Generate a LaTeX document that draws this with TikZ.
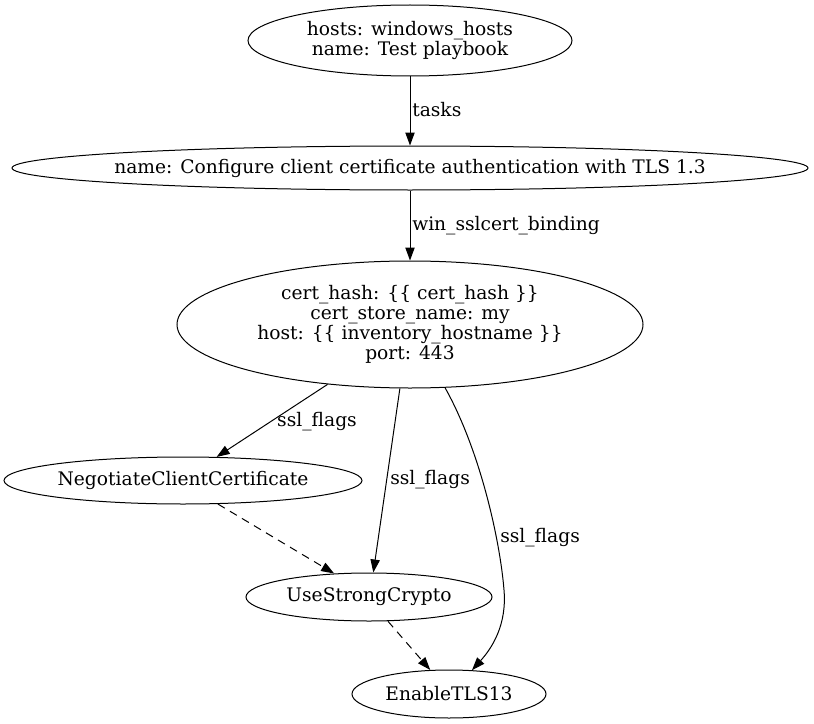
\documentclass[tikz,border=0pt]{standalone}
\usepackage{fontspec}
\setmainfont{DejaVu Serif}
\usetikzlibrary{arrows.meta,shapes.geometric}
\tikzset{
  ell/.style={draw, ellipse, inner sep=0pt, line width=0.75pt, align=center,
    font=\fontsize{14pt}{15pt}\selectfont},
  lbl/.style={inner sep=0pt, font=\fontsize{14pt}{15pt}\selectfont},
  edge/.style={line width=0.75pt, -{Triangle[length=9.75pt,width=7pt]}},
  dashedge/.style={edge, dash pattern=on 6pt off 4.5pt}
}
\begin{document}
\begin{tikzpicture}[x=0.75pt,y=-0.75pt]
\useasboundingbox (0,0) rectangle (814,724);
\node[ell, minimum width=324*0.75pt, minimum height=71*0.75pt] (top) at (410,40.5) {hosts: windows\_hosts\\name: Test playbook};
\node[ell, minimum width=796*0.75pt, minimum height=44*0.75pt] (mid) at (410,168) {\makebox[0pt]{name: Configure client certificate authentication with TLS 1.3}};
\node[ell, minimum width=466*0.75pt, minimum height=127*0.75pt] (cert) at (410,324.5) {cert\_hash: \{\{ cert\_hash \}\}\\cert\_store\_name: my\\host: \{\{ inventory\_hostname \}\}\\port: 443};
\node[ell, minimum width=358*0.75pt, minimum height=47*0.75pt] (neg) at (183,480.5) {\makebox[0pt]{NegotiateClientCertificate}};
\node[ell, minimum width=246*0.75pt, minimum height=48*0.75pt] (use) at (369,597) {UseStrongCrypto};
\node[ell, minimum width=194*0.75pt, minimum height=48*0.75pt] (ena) at (449,694) {EnableTLS13};

\draw[edge] (top) -- (mid);
\node[lbl, anchor=west] (l1) at (412,110) {tasks};
\draw[edge] (mid) -- (cert);
\node[lbl, anchor=west] (l2) at (412,226) {win\_sslcert\_binding};
\draw[edge] (cert.216) -- (neg.35);
\node[lbl] (l3) at (317,422) {ssl\_flags};
\draw[edge] (cert.261.3) -- (use.80.5);
\node[lbl, anchor=west] (l4) at (390,480) {ssl\_flags};
\draw[edge] (cert.299.8) .. controls (480,450) and (500,540) .. (504,590)
  .. controls (507,625) and (492,648) .. (ena.46);
\node[lbl, anchor=west] (l5) at (500,538) {ssl\_flags};
\draw[dashedge] (neg.326.5) -- (use.146.3);
\draw[dashedge] (use.308.4) -- (ena.128.4);
\end{tikzpicture}
\end{document}
